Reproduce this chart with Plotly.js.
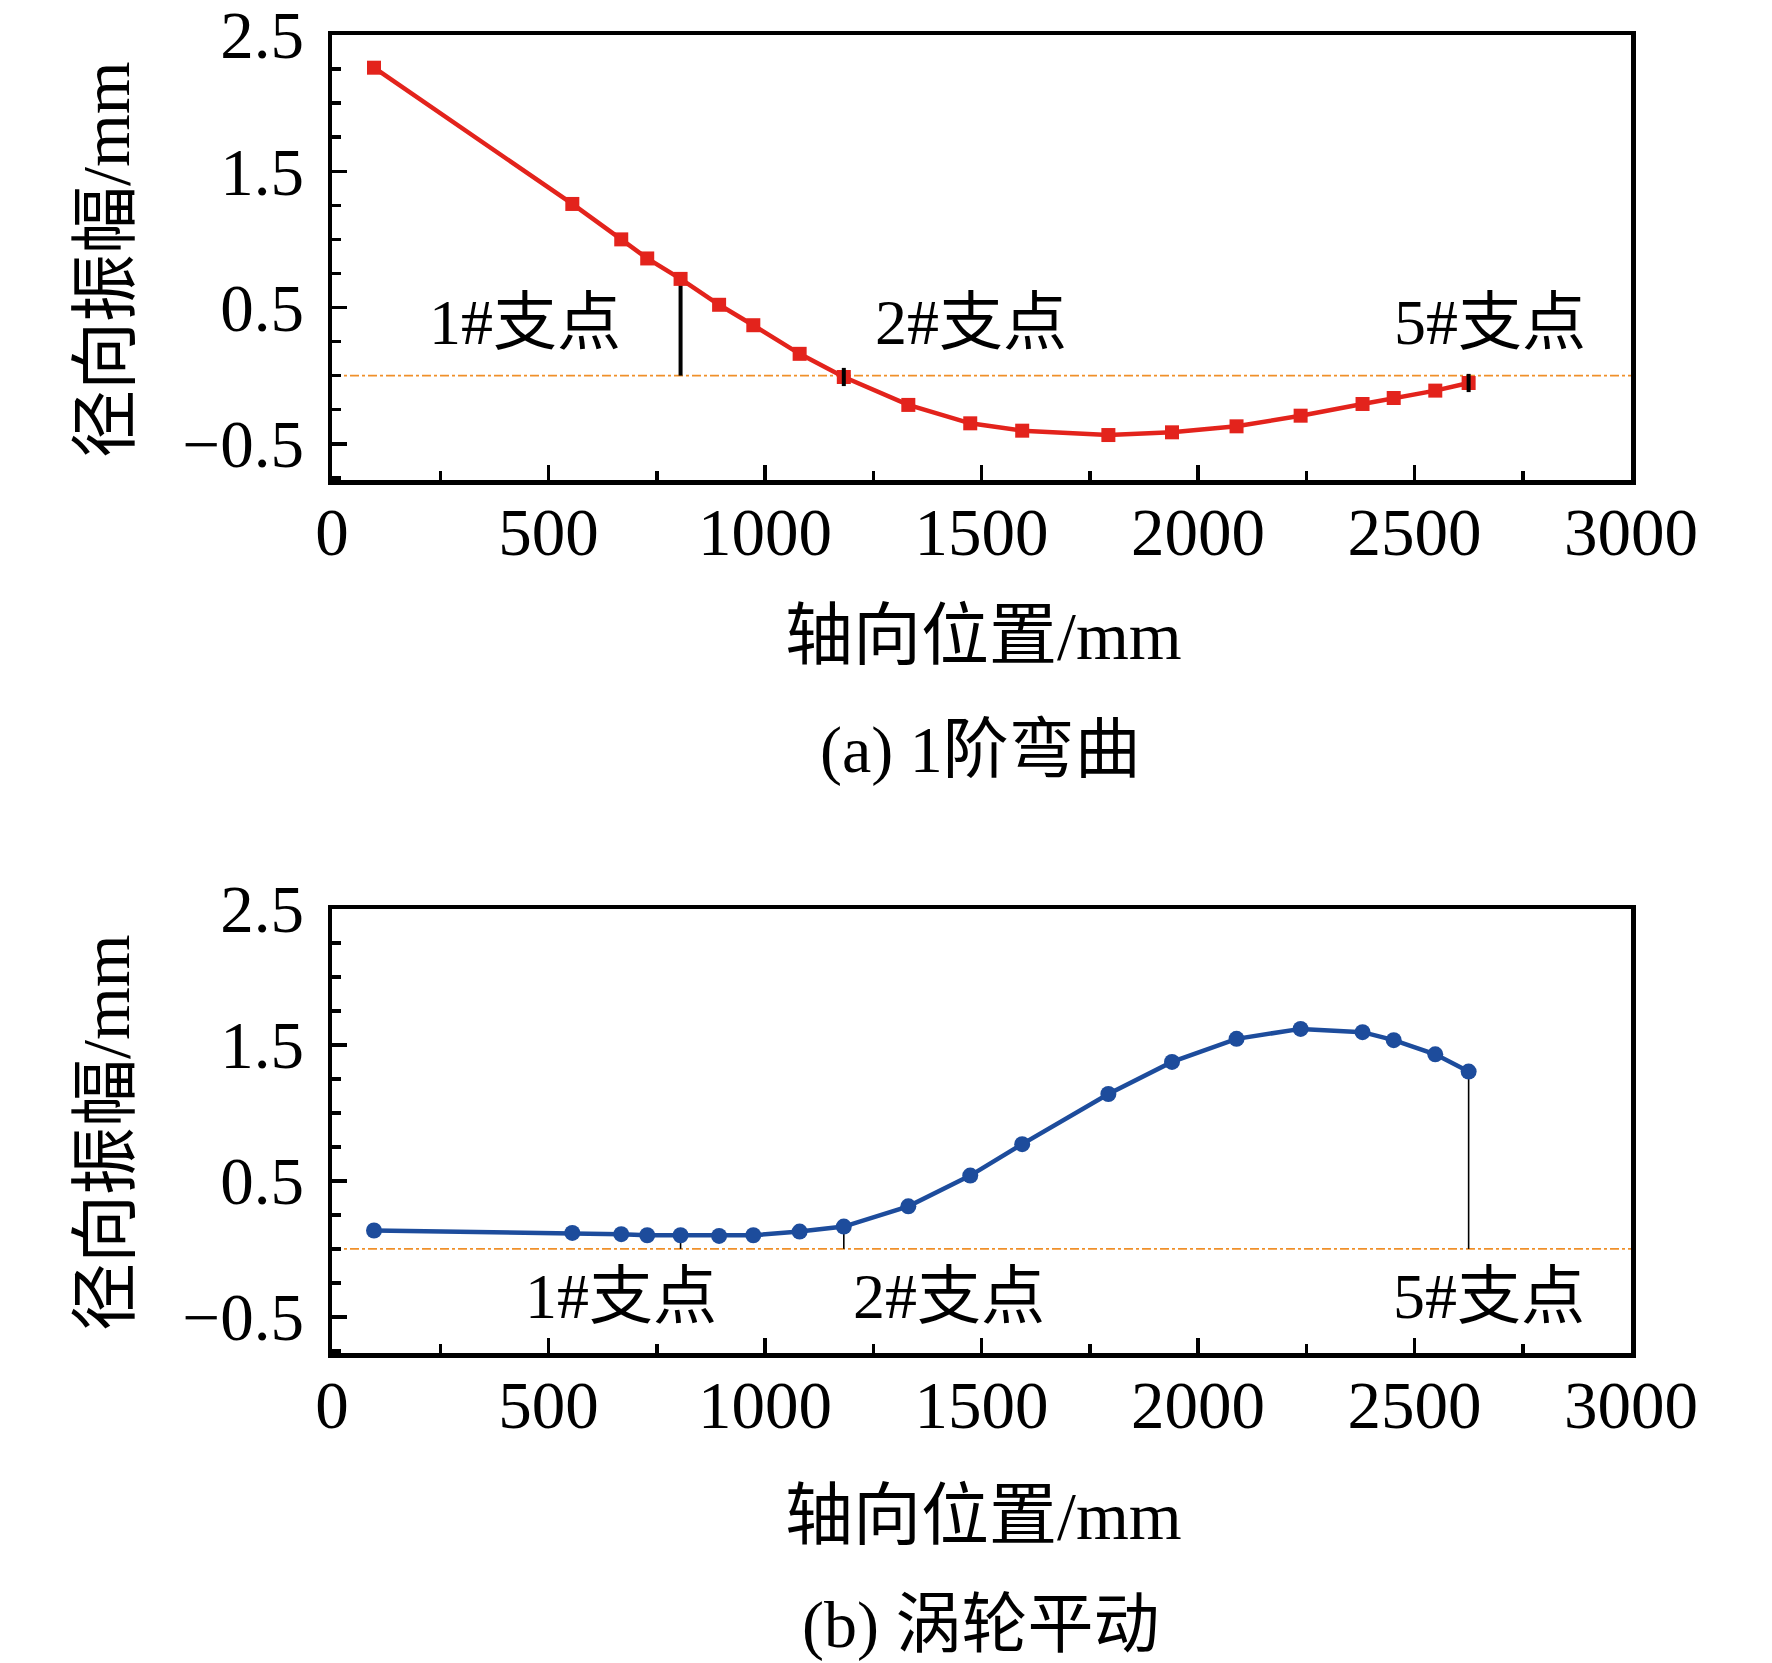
<!DOCTYPE html>
<html>
<head>
<meta charset="utf-8">
<script src="https://cdn.plot.ly/plotly-3.0.1.min.js"></script>
<style>
  html, body { margin: 0; padding: 0; background: #fff; }
  #chart { width: 1772px; height: 1663px; }
</style>
</head>
<body>
<div id="chart"></div>
<script>
// axial positions of the measuring points (mm)
var axialPos = [97, 555, 668, 728, 805, 894, 973, 1080, 1182, 1331, 1474, 1594, 1793, 1940, 2089, 2237, 2380, 2452, 2548, 2625];
// (a) 1st bending mode amplitude (mm)
var bendAmp = [2.26, 1.26, 1.00, 0.86, 0.71, 0.52, 0.37, 0.16, -0.01, -0.215, -0.35, -0.404, -0.436, -0.416, -0.372, -0.294, -0.208, -0.164, -0.11, -0.054];
// (b) turbine translation amplitude (mm)
var turbineAmp = [0.135, 0.117, 0.108, 0.10, 0.10, 0.095, 0.10, 0.127, 0.164, 0.313, 0.539, 0.77, 1.139, 1.375, 1.545, 1.618, 1.594, 1.535, 1.431, 1.304];

// supports
var supportPos = [805, 1182, 2625];
var supportText = ["1#支点", "2#支点", "5#支点"];
var labelXa = [446, 1475, 2675], labelYa = 0.39;
var labelXb = [668, 1425, 2673], labelYb = -0.35;

var xTicks = [0, 500, 1000, 1500, 2000, 2500, 3000];
var yTicks = [-0.5, 0.5, 1.5, 2.5];

var FONT = "'Liberation Serif', 'Times New Roman', 'Noto Sans CJK SC', serif";
var RED = "#e3231c";
var BLUE = "#1d4c9c";
var ORANGE = "#f0902a";

function ampAt(series, x) {
    return series[axialPos.indexOf(x)];
}

var traces = [];

// (a) support 1# line (thick)
traces.push({
    x: [supportPos[0], supportPos[0]],
    y: [0, ampAt(bendAmp, supportPos[0])],
    mode: "lines", line: {color: "#000", width: 4},
    xaxis: "x", yaxis: "y", hoverinfo: "skip"
});
traces.push({
    x: axialPos, y: bendAmp, mode: "lines+markers",
    line: {color: RED, width: 4.5},
    marker: {symbol: "square", size: 14, color: RED},
    xaxis: "x", yaxis: "y"
});
// small black marks at 2# and 5# supports on (a)
traces.push({
    x: [supportPos[1], supportPos[2]],
    y: [ampAt(bendAmp, supportPos[1]), ampAt(bendAmp, supportPos[2])],
    mode: "markers",
    marker: {symbol: "line-ns-open", size: 13, color: "#000", line: {color: "#000", width: 4}},
    xaxis: "x", yaxis: "y", hoverinfo: "skip"
});

// (b) support lines (thin)
supportPos.forEach(function (s) {
    traces.push({
        x: [s, s], y: [0, ampAt(turbineAmp, s)],
        mode: "lines", line: {color: "#000", width: 1.6},
        xaxis: "x2", yaxis: "y2", hoverinfo: "skip"
    });
});
traces.push({
    x: axialPos, y: turbineAmp, mode: "lines+markers",
    line: {color: BLUE, width: 4.5},
    marker: {symbol: "circle", size: 16, color: BLUE},
    xaxis: "x2", yaxis: "y2"
});

function xAxis(anchor) {
    return {
        domain: [332 / 1772, 1631 / 1772], anchor: anchor,
        range: [0, 3000], tickvals: xTicks,
        ticks: "inside", ticklen: 15, tickwidth: 3.5, tickcolor: "#000",
        minor: {dtick: 250, ticks: "inside", ticklen: 9, tickwidth: 3.5, tickcolor: "#000"},
        showline: true, linewidth: 4.5, linecolor: "#000", mirror: true,
        showgrid: false, zeroline: false,
        ticklabelstandoff: -10, ticklabeloverflow: "allow",
        tickfont: {family: FONT, size: 67, color: "#000"}
    };
}
function yAxis(anchor, top, bottom) {
    return {
        domain: [1 - bottom / 1663, 1 - top / 1663], anchor: anchor,
        range: [-0.766, 2.5], tickvals: yTicks, ticktext: ["\u22120.5", "0.5", "1.5", "2.5"],
        ticks: "inside", ticklen: 15, tickwidth: 3.5, tickcolor: "#000",
        minor: {dtick: 0.25, tick0: 0, ticks: "inside", ticklen: 9, tickwidth: 3.5, tickcolor: "#000"},
        showline: true, linewidth: 4.5, linecolor: "#000", mirror: true,
        showgrid: false, zeroline: false,
        ticklabelstandoff: 10, ticklabeloverflow: "allow",
        tickfont: {family: FONT, size: 67, color: "#000"}
    };
}

var annotations = [];
function txt(x, y, text, xref, yref, size, extra) {
    var a = {x: x, y: y, xref: xref, yref: yref, text: text, showarrow: false,
        font: {family: FONT, size: size, color: "#000"}, xanchor: "center", yanchor: "middle"};
    for (var k in extra) a[k] = extra[k];
    annotations.push(a);
}
supportText.forEach(function (t, i) {
    txt(labelXa[i], labelYa, t, "x", "y", 64);
    txt(labelXb[i], labelYb, t, "x2", "y2", 64);
});
txt(106 / 1772, 1 - 260 / 1663, "径向振幅/mm", "paper", "paper", 68, {textangle: -90});
txt(106 / 1772, 1 - 1133 / 1663, "径向振幅/mm", "paper", "paper", 68, {textangle: -90});
txt(983 / 1772, 1 - 636 / 1663, "轴向位置/mm", "paper", "paper", 68);
txt(983 / 1772, 1 - 1516 / 1663, "轴向位置/mm", "paper", "paper", 68);
txt(980 / 1772, 1 - 750 / 1663, "(a) 1阶弯曲", "paper", "paper", 66);
txt(980 / 1772, 1 - 1625 / 1663, "(b) 涡轮平动", "paper", "paper", 66);

var zeroLine = function (xr, yr) {
    return {type: "line", xref: xr, yref: yr, x0: 0, x1: 3000, y0: 0, y1: 0,
        line: {color: ORANGE, width: 1.6, dash: "dashdot"}, layer: "below"};
};

var layout = {
    width: 1772, height: 1663,
    margin: {l: 0, r: 0, t: 0, b: 0},
    paper_bgcolor: "#fff", plot_bgcolor: "#fff",
    showlegend: false,
    xaxis: xAxis("y"),
    yaxis: yAxis("x", 35, 480),
    xaxis2: xAxis("y2"),
    yaxis2: yAxis("x2", 909, 1353),
    annotations: annotations,
    shapes: [zeroLine("x", "y"), zeroLine("x2", "y2")]
};

Plotly.newPlot("chart", traces, layout, {staticPlot: true});
</script>
</body>
</html>
